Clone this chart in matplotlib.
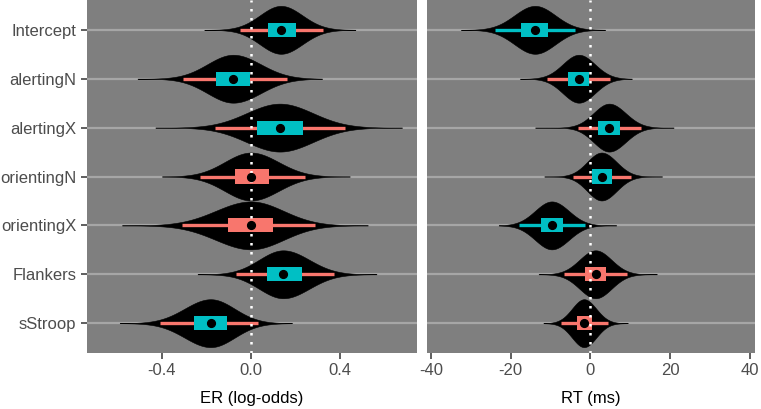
import numpy as np
import matplotlib
matplotlib.use("Agg")
import matplotlib.pyplot as plt

plt.rcParams['font.family'] = ['Liberation Sans', 'DejaVu Sans']

terms = ["Intercept", "alertingN", "alertingX", "orientingN", "orientingX", "Flankers", "sStroop"]

# ER (log-odds): median, 50% interval, 95% interval, slab extent
er_med = [0.135, -0.08, 0.13, 0.0, 0.0, 0.145, -0.181]
er_lo50 = [0.076, -0.157, 0.027, -0.072, -0.103, 0.071, -0.256]
er_hi50 = [0.202, -0.002, 0.233, 0.081, 0.098, 0.229, -0.107]
er_lo95 = [-0.05, -0.306, -0.162, -0.23, -0.31, -0.067, -0.41]
er_hi95 = [0.324, 0.163, 0.422, 0.243, 0.288, 0.375, 0.03]
er_min = [-0.21, -0.51, -0.43, -0.40, -0.58, -0.24, -0.59]
er_max = [0.47, 0.32, 0.68, 0.445, 0.526, 0.565, 0.185]

# RT (ms)
rt_med = [-13.9, -2.9, 4.7, 2.8, -9.7, 1.3, -1.6]
rt_lo50 = [-17.5, -5.5, 2.0, 0.3, -12.4, -1.3, -3.4]
rt_hi50 = [-10.6, -0.25, 7.5, 5.5, -6.8, 3.9, 0.3]
rt_lo95 = [-24.0, -10.8, -3.0, -4.3, -17.9, -6.6, -7.5]
rt_hi95 = [-3.9, 5.0, 12.8, 10.2, -1.3, 9.1, 4.4]
rt_min = [-32.5, -17.7, -13.9, -11.6, -23.0, -13.0, -11.8]
rt_max = [3.7, 10.4, 20.9, 18.0, 6.5, 16.7, 9.4]

TEAL = "#00BFC4"
SALMON = "#F8766D"
TXT = "#4D4D4D"


def panel(ax, med, lo50, hi50, lo95, hi95, vmin, vmax):
    ax.set_facecolor("#7F7F7F")
    for i in range(len(terms)):
        y = i + 1
        ax.axhline(y, color="#A6A6A6", lw=1.6, zorder=1)
        # slab: split normal from the intervals
        xs = np.linspace(vmin[i], vmax[i], 300)
        sl = (med[i] - lo95[i]) / 1.96
        sr = (hi95[i] - med[i]) / 1.96
        s = np.where(xs < med[i], sl, sr)
        d = np.exp(-0.5 * ((xs - med[i]) / s) ** 2)
        h = 0.49 * d
        ax.fill_between(xs, y - h, y + h, color="black", lw=0.4, edgecolor="black", zorder=2)
        c95 = TEAL if (lo95[i] > 0 or hi95[i] < 0) else SALMON
        c50 = TEAL if (lo50[i] > 0 or hi50[i] < 0) else SALMON
        ax.plot([lo95[i], hi95[i]], [y, y], color=c95, lw=2.4, solid_capstyle="butt", zorder=3)
        ax.add_patch(plt.Rectangle((lo50[i], y - 0.145), hi50[i] - lo50[i], 0.29,
                                   color=c50, lw=0, zorder=4))
        ax.plot(med[i], y, "o", color="black", ms=5.6, zorder=6)
    ax.axvline(0, color="white", lw=1.8, ls=(0, (1, 2.6)), zorder=5)
    ax.set_ylim(7.61, 0.39)
    for sp in ax.spines.values():
        sp.set_visible(False)
    ax.tick_params(colors="#333333", labelcolor=TXT, labelsize=12, length=4, width=1.1)


fig = plt.figure(figsize=(7.61, 4.09), dpi=100)
ax1 = fig.add_axes([87 / 761, 1 - 353 / 409, 330 / 761, 353 / 409])
ax2 = fig.add_axes([427 / 761, 1 - 353 / 409, 328 / 761, 353 / 409])

panel(ax1, er_med, er_lo50, er_hi50, er_lo95, er_hi95, er_min, er_max)
ax1.set_xlim(-0.737, 0.747)
ax1.set_xticks([-0.4, 0.0, 0.4])
ax1.set_xticklabels(["-0.4", "0.0", "0.4"])
ax1.set_yticks(range(1, 8))
ax1.set_yticklabels(terms)
ax1.set_xlabel("ER (log-odds)", fontsize=12, color="black", labelpad=9)

panel(ax2, rt_med, rt_lo50, rt_hi50, rt_lo95, rt_hi95, rt_min, rt_max)
ax2.set_xlim(-41.0, 41.3)
ax2.set_xticks([-40, -20, 0, 20, 40])
ax2.set_xticklabels(["-40", "-20", "0", "20", "40"])
ax2.set_yticks([])
ax2.set_xlabel("RT (ms)", fontsize=12, color="black", labelpad=9)

fig.savefig("out.png", dpi=100)
